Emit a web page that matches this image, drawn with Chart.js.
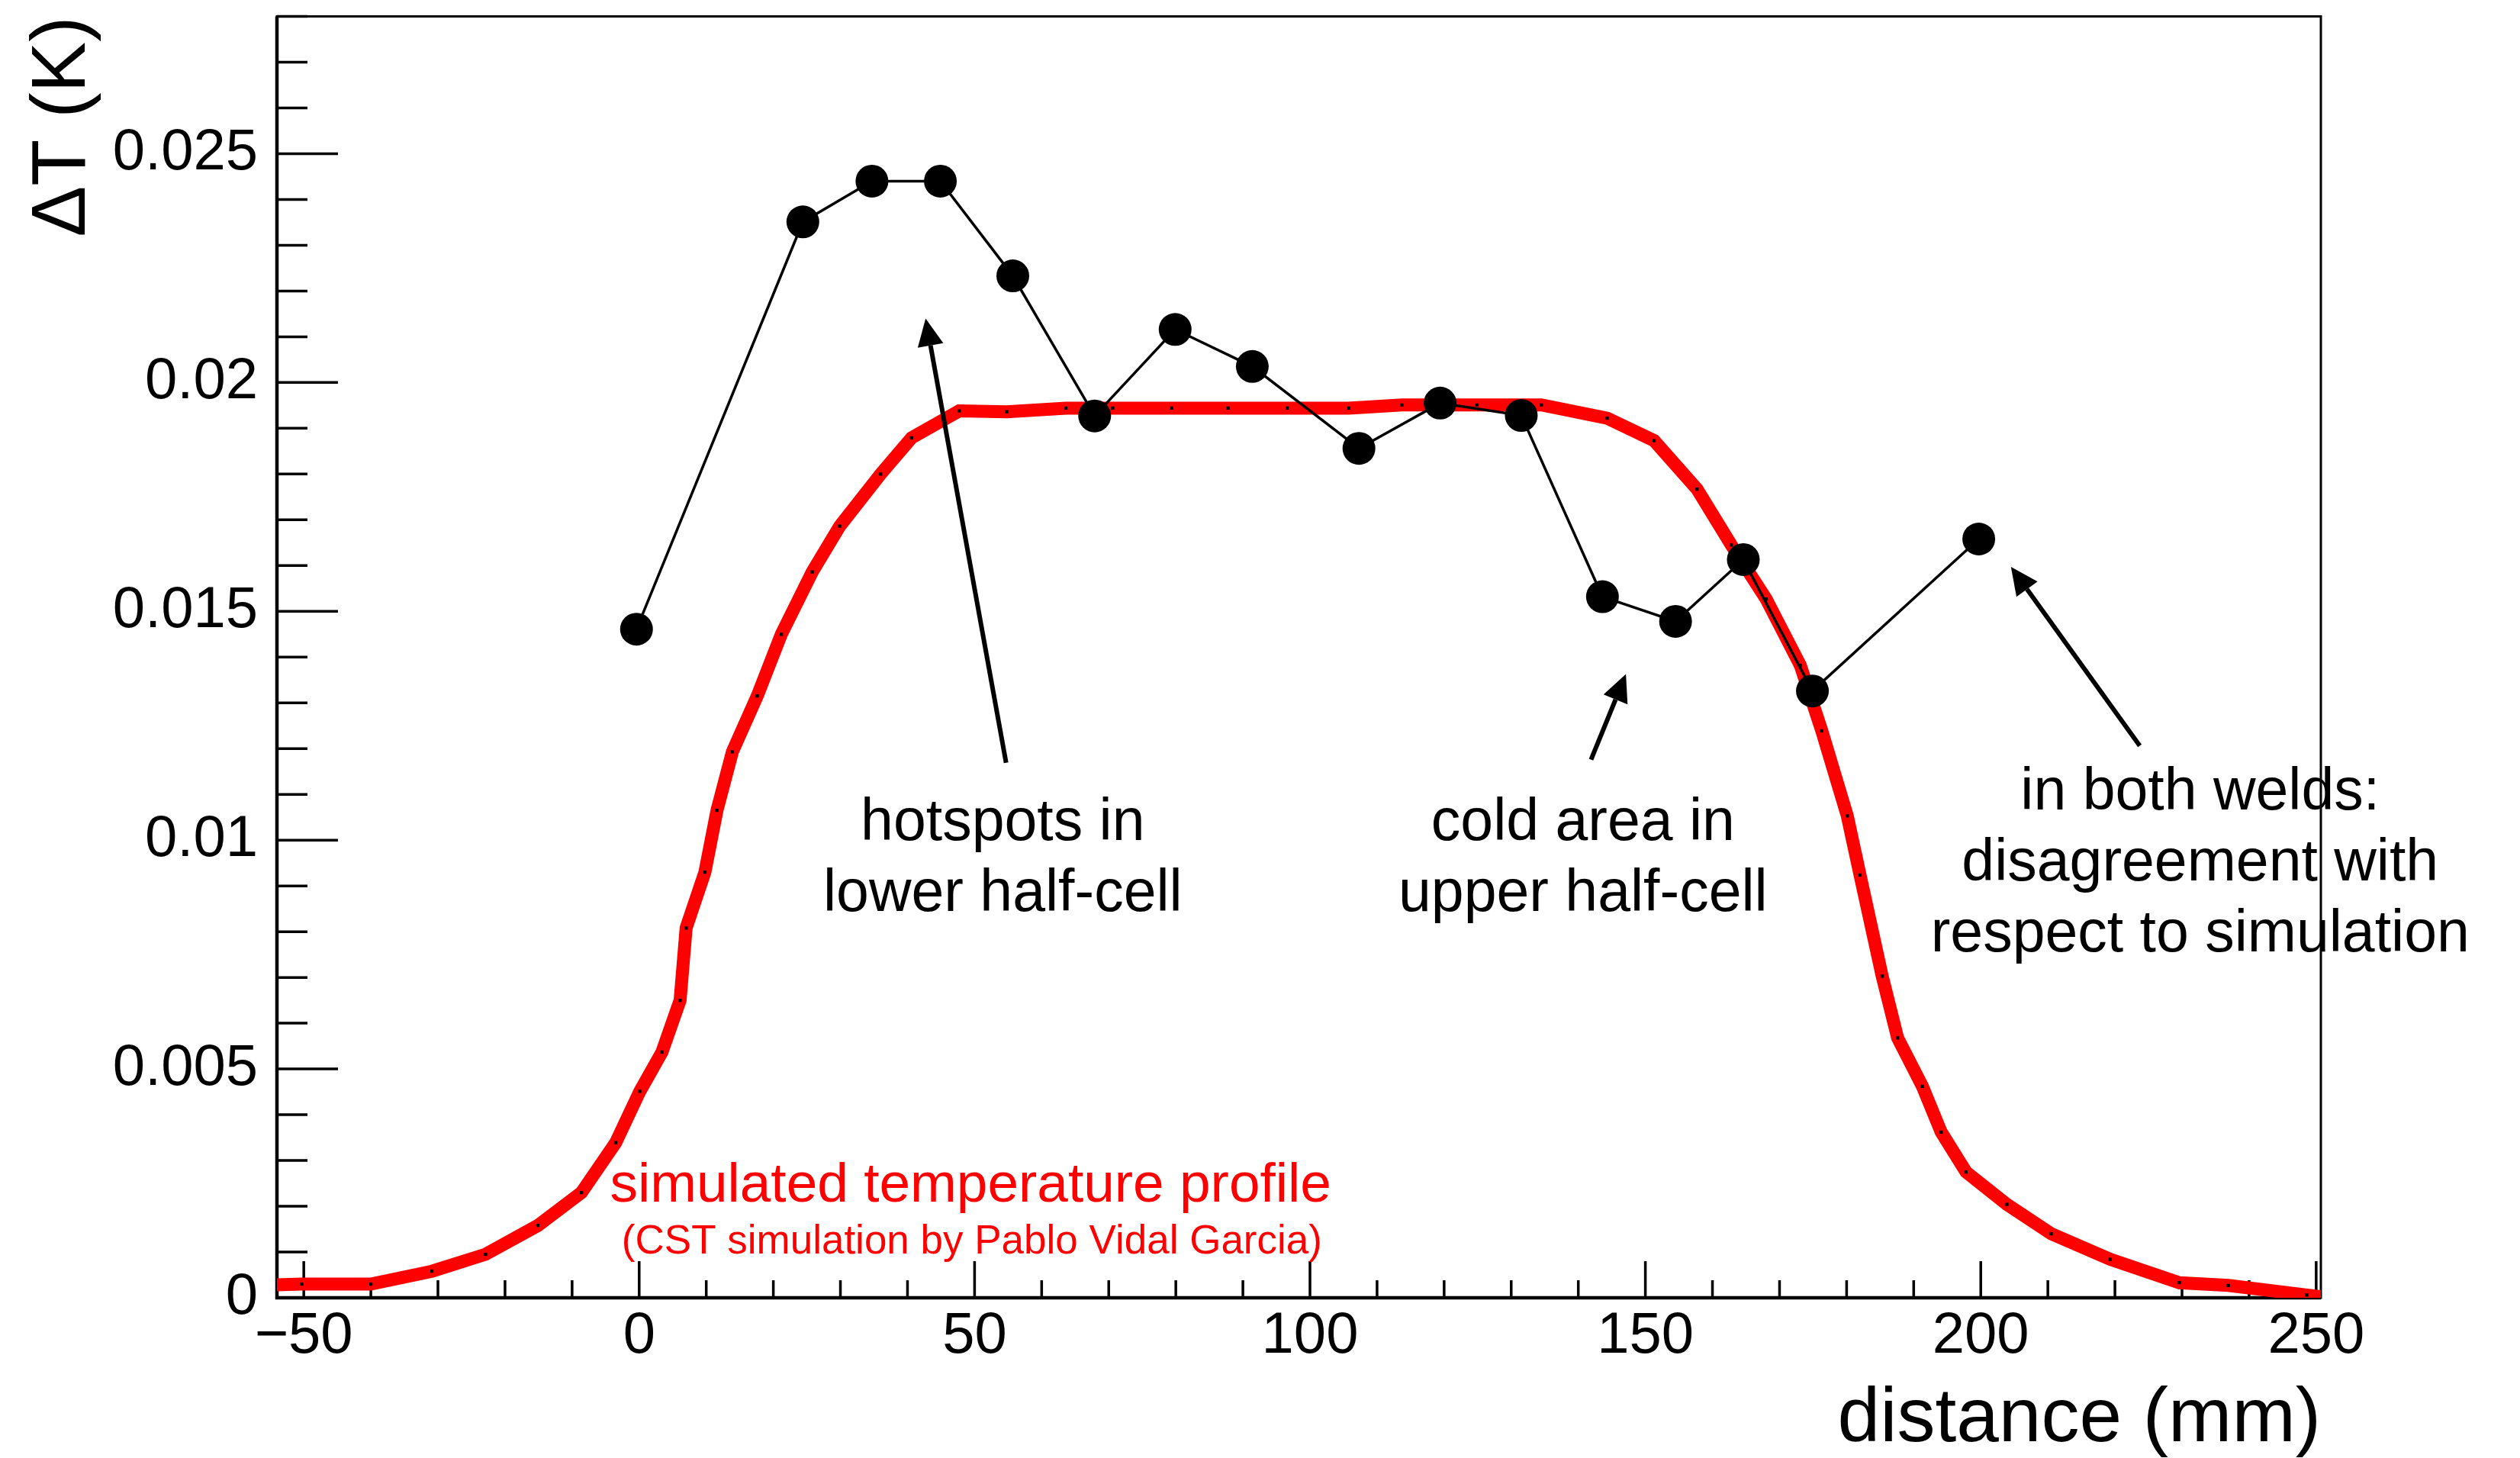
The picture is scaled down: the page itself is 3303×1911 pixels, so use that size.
<!DOCTYPE html>
<html>
<head>
<meta charset="utf-8">
<script src="https://cdn.jsdelivr.net/npm/chart.js@4.4.1/dist/chart.umd.min.js"></script>
<style>
  html, body { margin: 0; padding: 0; background: #fff; }
  canvas { display: block; }
</style>
</head>
<body>
<canvas id="profile" width="3303" height="1911"></canvas>
<script>
// measured temperature rise along the cavity
const measX = [-0.4, 24.4, 34.7, 44.9, 55.7, 67.9, 79.9, 91.4, 107.3, 119.4, 131.5, 143.6, 154.5, 164.6, 174.9, 199.7]
const measY = [0.01461, 0.02351, 0.0244, 0.0244, 0.02233, 0.01927, 0.02116, 0.02035, 0.01856, 0.01955, 0.01928, 0.01532, 0.01478, 0.01613, 0.01326, 0.01658]

// CST simulated profile
const simX = [
  -60, -50.3, -40.0, -30.9, -22.9, -15.1, -8.6, -3.5, 0.1, 3.4, 6.1, 7.0, 9.8, 11.6, 13.9, 17.6,
  21.2, 25.8, 29.9, 36.0, 40.6, 47.7, 54.8, 63.6, 70.6, 79.4, 87.8, 96.6, 105.8, 113.7, 124.9,
  134.5, 144.3, 151.3, 157.7, 162.8, 168.0, 173.1, 176.3, 180.1, 182.0, 185.3, 187.6, 191.3,
  194.1, 197.8, 203.9, 210.5, 219.3, 229.6, 236.9, 248.6, 252
]
const simY = [
  0.00026, 0.0003, 0.0003, 0.00058, 0.00095, 0.00158, 0.0023, 0.00339, 0.00451, 0.00537, 0.0065,
  0.00808, 0.0093, 0.01065, 0.01193, 0.01315, 0.0145, 0.01586, 0.01686, 0.018, 0.01879, 0.01938,
  0.01936, 0.01944, 0.01944, 0.01944, 0.01944, 0.01944, 0.01944, 0.01951, 0.01951, 0.01951,
  0.01922, 0.01873, 0.01767, 0.01645, 0.01527, 0.01382, 0.01239, 0.01053, 0.00924, 0.00703,
  0.00568, 0.00462, 0.00362, 0.00275, 0.00204, 0.0014, 0.00084, 0.00033, 0.00027, 0.00006, 0
]

const xLabelEvery = 50
const yLabelEvery = 5   // in units of 0.001 K

const notes = [
  { x: 54.2, y: 0.01, lines: ['hotspots in', 'lower half-cell'], size: 77, color: '#000' },
  { x: 140.7, y: 0.01, lines: ['cold area in', 'upper half-cell'], size: 77, color: '#000' },
  { x: 232.7, y: 0.01067, lines: ['in both welds:', 'disagreement with', 'respect to simulation'], size: 77, color: '#000' },
  { x: 49.4, y: 0.0021, lines: ['simulated temperature profile'], size: 73, color: '#ff0000' },
  { x: 49.6, y: 0.00097, lines: ['(CST simulation by Pablo Vidal Garcia)'], size: 53, color: '#ff0000' }
]

const arrows = [
  { from: [54.7, 0.01169], to: [42.7, 0.0214] },
  { from: [141.9, 0.01176], to: [147.1, 0.01363] },
  { from: [223.7, 0.01206], to: [204.5, 0.01597] }
]

const FONT = "'Liberation Sans', Arial, Helvetica, sans-serif"

// ROOT-like frame with ticks pointing inwards
const rootFrame = {
  id: 'rootFrame',
  beforeDatasetsDraw(chart) {
    const { ctx, chartArea: a, scales: { x, y } } = chart
    ctx.save()
    ctx.strokeStyle = '#000'
    ctx.lineWidth = 3.5
    ctx.beginPath()
    x.ticks.forEach(t => {
      const px = x.getPixelForValue(t.value)
      const len = Math.round(t.value) % xLabelEvery === 0 ? 48 : 23
      ctx.moveTo(px, a.bottom)
      ctx.lineTo(px, a.bottom - len)
    })
    y.ticks.forEach(t => {
      const py = y.getPixelForValue(t.value)
      const len = Math.round(t.value * 1000) % yLabelEvery === 0 ? 80 : 40
      ctx.moveTo(a.left, py)
      ctx.lineTo(a.left + len, py)
    })
    ctx.stroke()

    ctx.lineWidth = 3
    ctx.strokeRect(a.left, a.top, a.right - a.left, a.bottom - a.top)
    ctx.lineWidth = 4.5
    ctx.beginPath()
    ctx.moveTo(a.left, a.top)
    ctx.lineTo(a.left, a.bottom)
    ctx.lineTo(a.right, a.bottom)
    ctx.stroke()
    ctx.restore()
  }
}

function drawArrow(ctx, x0, y0, x1, y1) {
  const ang = Math.atan2(y1 - y0, x1 - x0)
  const head = 36
  const half = 17
  const bx = x1 - head * Math.cos(ang)
  const by = y1 - head * Math.sin(ang)
  ctx.beginPath()
  ctx.moveTo(x0, y0)
  ctx.lineTo(bx, by)
  ctx.stroke()
  ctx.beginPath()
  ctx.moveTo(x1, y1)
  ctx.lineTo(bx + half * Math.sin(ang), by - half * Math.cos(ang))
  ctx.lineTo(bx - half * Math.sin(ang), by + half * Math.cos(ang))
  ctx.closePath()
  ctx.fill()
}

const annotations = {
  id: 'annotations',
  afterDatasetsDraw(chart) {
    const { ctx, scales: { x, y } } = chart
    ctx.save()
    ctx.strokeStyle = '#000'
    ctx.fillStyle = '#000'
    ctx.lineWidth = 6
    arrows.forEach(a => {
      drawArrow(ctx,
        x.getPixelForValue(a.from[0]), y.getPixelForValue(a.from[1]),
        x.getPixelForValue(a.to[0]), y.getPixelForValue(a.to[1]))
    })
    ctx.textAlign = 'center'
    ctx.textBaseline = 'alphabetic'
    notes.forEach(n => {
      ctx.font = n.size + 'px ' + FONT
      ctx.fillStyle = n.color
      const px = x.getPixelForValue(n.x)
      const py = y.getPixelForValue(n.y)
      n.lines.forEach((line, i) => ctx.fillText(line, px, py + i * 93))
    })
    ctx.restore()
  }
}

new Chart(document.querySelector('#profile'), {
  type: 'scatter',
  plugins: [rootFrame, annotations],
  data: {
    datasets: [
      {
        label: 'measured',
        data: measX.map((v, i) => ({ x: v, y: measY[i] })),
        showLine: true,
        borderColor: '#000',
        borderWidth: 3.5,
        pointRadius: 21.5,
        pointBackgroundColor: '#000',
        pointBorderWidth: 0,
        order: 0
      },
      {
        label: 'simulation',
        data: simX.map((v, i) => ({ x: v, y: simY[i] })),
        showLine: true,
        borderColor: '#ff0000',
        borderWidth: 17,
        pointStyle: 'rect',
        pointRadius: 3,
        pointBackgroundColor: '#000',
        pointBorderWidth: 0,
        order: 1
      }
    ]
  },
  options: {
    responsive: false,
    animation: false,
    devicePixelRatio: 1,
    layout: { padding: { left: 0, top: 20, right: 261, bottom: 0 } },
    plugins: {
      legend: { display: false },
      tooltip: { enabled: false }
    },
    scales: {
      x: {
        type: 'linear',
        min: -54,
        max: 250.7,
        grid: { display: false, drawTicks: false },
        border: { display: false },
        ticks: {
          stepSize: 10,
          includeBounds: false,
          autoSkip: false,
          maxRotation: 0,
          padding: 5,
          color: '#000',
          font: { family: FONT, size: 76 },
          callback: v => {
            const r = Math.round(v)
            if (r % xLabelEvery !== 0) return ''
            return r < 0 ? '\u2212' + Math.abs(r) : String(r)
          }
        },
        title: {
          display: true,
          text: 'distance (mm)',
          align: 'end',
          color: '#000',
          padding: 0,
          font: { family: FONT, size: 100, lineHeight: 1 }
        },
        afterFit: s => {
          s.height = 210
          s.paddingLeft = 0
          s.paddingRight = 0
        }
      },
      y: {
        type: 'linear',
        min: 0,
        max: 0.028,
        grid: { display: false, drawTicks: false },
        border: { display: false },
        ticks: {
          stepSize: 0.001,
          includeBounds: false,
          autoSkip: false,
          padding: 25,
          color: '#000',
          font: { family: FONT, size: 76 },
          callback: v => {
            const r = Math.round(v * 1000)
            if (r % yLabelEvery !== 0) return ''
            return String(r / 1000)
          }
        },
        title: {
          display: true,
          text: '\u0394T (K)',
          align: 'end',
          color: '#000',
          padding: { top: 33, bottom: 0 },
          font: { family: FONT, size: 100, lineHeight: 1 }
        },
        afterFit: s => {
          s.width = 363
          s.paddingTop = 0
          s.paddingBottom = 0
        }
      }
    }
  }
})
</script>
</body>
</html>
